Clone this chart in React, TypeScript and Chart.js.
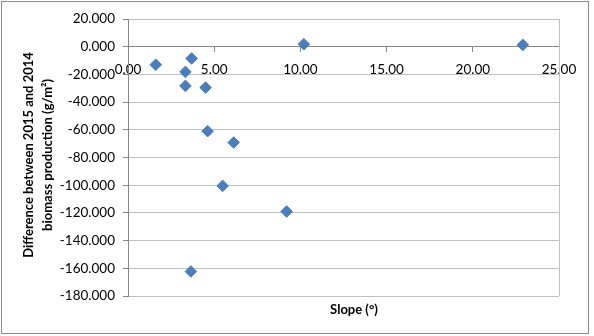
import React, { useEffect, useRef } from "react";
import { Chart, registerables } from "chart.js";

Chart.register(...registerables);

const slopeValues: number[] = [1.61, 3.69, 3.33, 3.33, 4.5, 10.2, 22.9, 4.62, 6.13, 5.49, 9.2, 3.65];
const biomassDiff: number[] = [-13.0, -8.5, -18.2, -28.3, -29.5, 1.8, 1.3, -61.0, -69.2, -100.5, -119.0, -162.3];

const xTitle = "Slope (°)";
const yTitleLines = ["Difference between 2015 and 2014", "biomass production (g/m²)"];

const FONT = "Lato, 'Open Sans', sans-serif";

export default function App() {
  const ref = useRef<HTMLCanvasElement | null>(null);

  useEffect(() => {
    const canvas = ref.current;
    if (!canvas) return;

    const decor = {
      id: "decor",
      afterDraw(chart: any) {
        const { ctx, chartArea } = chart;
        ctx.save();
        ctx.strokeStyle = "#bfbfbf";
        ctx.lineWidth = 1;
        ctx.beginPath();
        ctx.moveTo(Math.round(chartArea.right) + 0.5, chartArea.top);
        ctx.lineTo(Math.round(chartArea.right) + 0.5, chartArea.bottom);
        ctx.stroke();
        ctx.strokeStyle = "#8c8c8c";
        ctx.strokeRect(1.5, 1.5, 587, 332);
        ctx.fillStyle = "#000";
        ctx.font = `bold 13px ${FONT}`;
        ctx.textAlign = "center";
        ctx.textBaseline = "middle";
        ctx.fillText(xTitle, 354, 310);
        ctx.translate(29, 155);
        ctx.rotate(-Math.PI / 2);
        ctx.fillText(yTitleLines[0], 0, 0);
        ctx.fillText(yTitleLines[1], 0, 19);
        ctx.restore();
      },
    };

    const chart = new Chart(canvas, {
      type: "scatter",
      data: {
        datasets: [
          {
            data: slopeValues.map((x, i) => ({ x, y: biomassDiff[i] })),
            pointStyle: "rectRot",
            pointRadius: 5.8,
            backgroundColor: "#4a7ebb",
            borderColor: "#4a7ebb",
            borderWidth: 1,
          },
        ],
      },
      options: {
        animation: false,
        responsive: false,
        maintainAspectRatio: false,
        layout: { padding: { left: 0, top: 19, right: 35, bottom: 40 } },
        plugins: { legend: { display: false }, tooltip: { enabled: false } },
        scales: {
          x: {
            type: "linear",
            position: { y: 0 },
            min: 0,
            max: 25,
            ticks: {
              stepSize: 5,
              color: "#000",
              font: { family: FONT, size: 13.5 },
              padding: 10,
              callback: (v: any) => Number(v).toFixed(2),
            },
            grid: {
              drawOnChartArea: false,
              drawTicks: true,
              tickLength: 5,
              color: "#868686",
            },
            border: { color: "#868686" },
          },
          y: {
            type: "linear",
            position: "left",
            min: -180,
            max: 20,
            afterFit: (scale: any) => {
              scale.width = 128;
            },
            ticks: {
              stepSize: 20,
              color: "#000",
              font: { family: FONT, size: 13.5 },
              padding: 8,
              callback: (v: any) => Number(v).toFixed(3),
            },
            grid: {
              color: "#c0c0c0",
              tickLength: 5,
              tickColor: "#868686",
            },
            border: { color: "#868686" },
          },
        },
      },
      plugins: [decor],
    });

    return () => chart.destroy();
  }, []);

  return (
    <div style={{ position: "fixed", left: 0, top: 0, width: 594, height: 336, background: "#fff" }}>
      <canvas ref={ref} width={594} height={336} style={{ width: 594, height: 336, display: "block" }} />
    </div>
  );
}
